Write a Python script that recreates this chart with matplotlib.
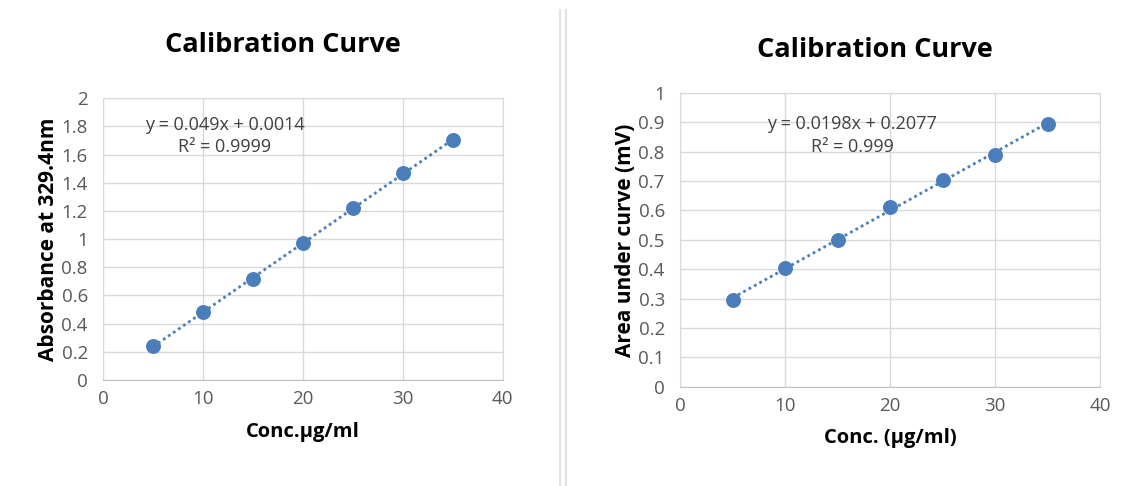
import numpy as np
import matplotlib.pyplot as plt
from matplotlib.lines import Line2D

plt.rcParams['font.family'] = ['Open Sans', 'DejaVu Sans']

conc = [5, 10, 15, 20, 25, 30, 35]
absorbance = [0.24, 0.48, 0.72, 0.97, 1.22, 1.47, 1.70]
area = [0.295, 0.405, 0.50, 0.61, 0.705, 0.79, 0.895]

eq_left = "y = 0.049x + 0.0014\nR² = 0.9999"
eq_right = "y = 0.0198x + 0.2077\nR² = 0.999"

blue = '#4a7ebb'
grey = '#595959'

fig = plt.figure(figsize=(11.26, 4.86), dpi=100)
ax1 = fig.add_axes([0.0915, 0.218, 0.355, 0.580])
ax2 = fig.add_axes([0.604, 0.204, 0.373, 0.605])


def draw(ax, x, y, yticks, ylabel, xlabel, eq, eqpos):
    x = np.array(x)
    y = np.array(y)
    m, b = np.polyfit(x, y, 1)
    xs = np.array([x.min(), x.max()])
    ax.plot(xs, m * xs + b, linestyle=(0, (1, 1.2)), color=blue, linewidth=2, zorder=2)
    ax.scatter(x, y, s=95, color=blue, zorder=3)
    ax.set_xlim(0, 40)
    ax.set_ylim(yticks[0], yticks[-1])
    ax.set_xticks([0, 10, 20, 30, 40])
    ax.set_yticks(yticks)
    ax.set_yticklabels([f"{t:g}" for t in yticks])
    ax.grid(True, color='#d9d9d9', linewidth=1)
    ax.set_axisbelow(True)
    for s in ax.spines.values():
        s.set_color('#d9d9d9')
    ax.spines['bottom'].set_color('#bfbfbf')
    ax.tick_params(length=0, labelsize=13.5, colors=grey)
    ax.tick_params(axis='x', pad=7)
    ax.tick_params(axis='y', pad=11)
    ax.set_xlabel(xlabel, fontsize=14.5, fontweight='bold', labelpad=10)
    ax.set_ylabel(ylabel, fontsize=15, fontweight='bold', labelpad=2)
    ax.text(eqpos[0], eqpos[1], eq, ha='center', va='center', fontsize=13,
            color='#404040', linespacing=1.3)


draw(ax1, conc, absorbance, [0, 0.2, 0.4, 0.6, 0.8, 1, 1.2, 1.4, 1.6, 1.8, 2],
     "Absorbance at 329.4nm", "Conc.µg/ml", eq_left, (12.2, 1.73))
draw(ax2, conc, area, [0, 0.1, 0.2, 0.3, 0.4, 0.5, 0.6, 0.7, 0.8, 0.9, 1],
     "Area under curve (mV)", "Conc. (µg/ml)", eq_right, (16.4, 0.855))

fig.text(283 / 1126, 1 - 45 / 486, "Calibration Curve", ha='center', va='center',
         fontsize=19.5, fontweight='bold')
fig.text(875 / 1126, 1 - 50 / 486, "Calibration Curve", ha='center', va='center',
         fontsize=19.5, fontweight='bold')

for px in (560, 566):
    fig.add_artist(Line2D([px / 1126, px / 1126], [1 - 10 / 486, 0], color='#e3e3e3', linewidth=1.5))

fig.savefig('out.png', dpi=100)
